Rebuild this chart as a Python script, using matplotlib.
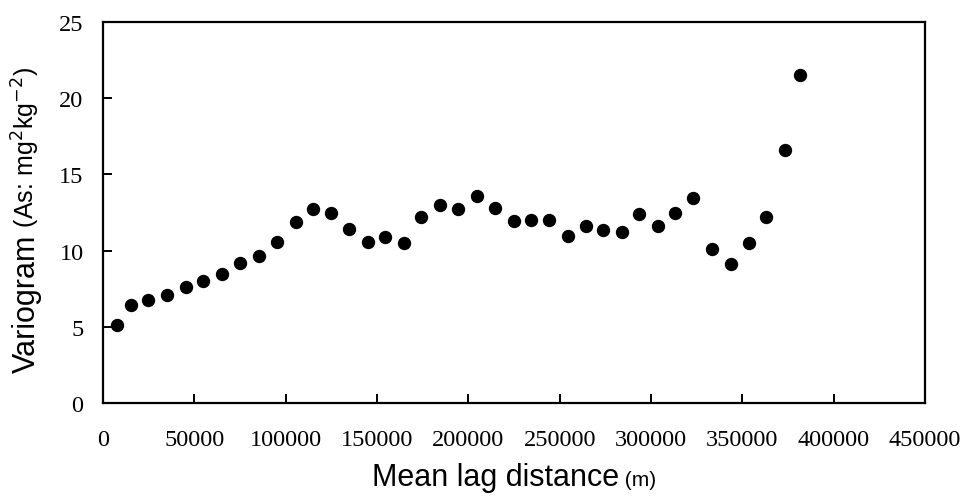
import matplotlib
matplotlib.use("Agg")
import matplotlib.pyplot as plt

lag_distance = [7500, 15100, 24800, 35100, 45500, 55000, 65400, 75200, 85400, 95100,
                105500, 115000, 124900, 134700, 145100, 154600, 165000, 174300, 184700, 194400,
                204500, 214400, 224800, 234300, 244400, 254300, 264500, 273900, 284000, 293300,
                303800, 312900, 323000, 333500, 343600, 353400, 362800, 373400, 381600]
variogram = [5.1, 6.4, 6.77, 7.06, 7.6, 8.03, 8.47, 9.2, 9.62, 10.57,
             11.88, 12.73, 12.49, 11.45, 10.56, 10.9, 10.5, 12.19, 13.0, 12.7,
             13.57, 12.77, 11.95, 12.03, 11.99, 10.99, 11.64, 11.32, 11.21, 12.38,
             11.64, 12.47, 13.42, 10.08, 9.1, 10.5, 12.19, 16.62, 21.5]
x_ticks = [0, 50000, 100000, 150000, 200000, 250000, 300000, 350000, 400000, 450000]
y_ticks = [0, 5, 10, 15, 20, 25]

fig = plt.figure(figsize=(9.63, 5.02), dpi=100)
ax = fig.add_axes([103/963, 1-404/502, (925-103)/963, (404-23)/502])
ax.plot(lag_distance, variogram, 'o', color='black', markersize=8.6, clip_on=False)
ax.set_xlim(0, 450000)
ax.set_ylim(0, 25)
ax.set_xticks(x_ticks)
ax.set_yticks(y_ticks)
ax.set_xticklabels([str(t) for t in x_ticks])
ax.set_yticklabels([str(t) for t in y_ticks])
for s in ax.spines.values():
    s.set_linewidth(1.6)
ax.tick_params(direction='in', length=6.5, width=1.4, labelsize=17.5)
ax.tick_params(axis='x', pad=19)
ax.tick_params(axis='y', pad=14)
for lab in ax.get_xticklabels() + ax.get_yticklabels():
    lab.set_family('Liberation Serif')

fig.canvas.draw()
r = fig.canvas.get_renderer()
sans = ['Liberation Sans', 'DejaVu Sans']

# x label
t1 = fig.text(0, 0, 'Mean lag distance', fontsize=22, family=sans, va='baseline', ha='left')
t2 = fig.text(0, 0, ' (m)', fontsize=15, family=sans, va='baseline', ha='left')
w1 = t1.get_window_extent(r).width
w2 = t2.get_window_extent(r).width
cx = (103 + 925) / 2
x0 = cx - (w1 + w2) / 2
base_y = 1 - 486/502
t1.set_position((x0/963, base_y))
t2.set_position(((x0 + w1)/963, base_y))

# y label
u1 = fig.text(0, 0, 'Variogram', fontsize=22, family=sans, rotation=90, va='baseline', ha='left', rotation_mode='anchor')
u2 = fig.text(0, 0, ' (As: mg$^2$kg$^{-2}$)', fontsize=18, family=sans, rotation=90, va='baseline', ha='left', rotation_mode='anchor')
h1 = u1.get_window_extent(r).height
h2 = u2.get_window_extent(r).height
cy = 502 - 220
y0 = cy - (h1 + h2) / 2
base_x = 35/963
u1.set_position((base_x, y0/502))
u2.set_position((base_x, (y0 + h1)/502))

fig.savefig('out.png', dpi=100)
